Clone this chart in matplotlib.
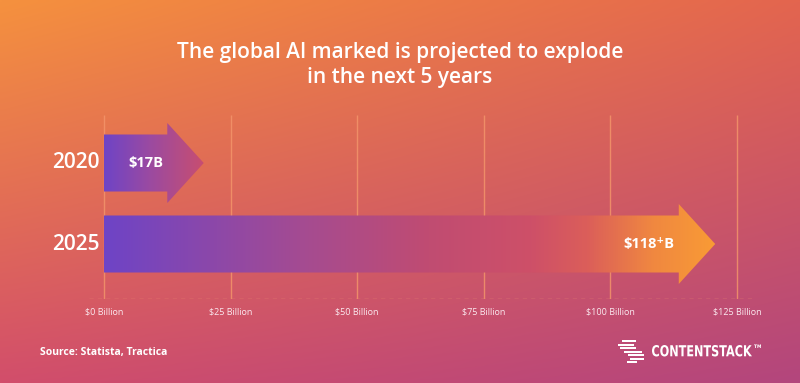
import numpy as np
import matplotlib
matplotlib.use("Agg")
import matplotlib.pyplot as plt
from matplotlib.patches import Polygon, Rectangle, PathPatch
from matplotlib.colors import LinearSegmentedColormap, to_rgb
from matplotlib.textpath import TextPath
from matplotlib.font_manager import FontProperties
from matplotlib.transforms import Affine2D

# ---- data ----
years = ["2020", "2025"]
values = [17, 118]
value_labels = ["$17B", "$118\u207AB"]
tick_values = [0, 25, 50, 75, 100, 125]
tick_labels = ["$0 Billion", "$25 Billion", "$50 Billion", "$75 Billion", "$100 Billion", "$125 Billion"]
title = "The global AI marked is projected to explode\nin the next 5 years"
source = "Source: Statista, Tractica"

FONT = ["Open Sans", "DejaVu Sans"]
plt.rcParams["font.family"] = FONT

W, H = 800, 383
fig = plt.figure(figsize=(W / 100, H / 100), dpi=100)

# ---- background gradient (4 corners bilinear) ----
bg = fig.add_axes([0, 0, 1, 1], zorder=0)
tl, tr = np.array(to_rgb("#F5913E")), np.array(to_rgb("#E3654F"))
bl, br = np.array(to_rgb("#D24E6B")), np.array(to_rgb("#B3467D"))
u = np.linspace(0, 1, 200)[None, :, None]
v = np.linspace(0, 1, 100)[:, None, None]
img = (1 - v) * ((1 - u) * tl + u * tr) + v * ((1 - u) * bl + u * br)
bg.imshow(img, extent=(0, 1, 0, 1), aspect="auto", origin="upper", interpolation="bilinear")
bg.set_axis_off()
bg.set_xlim(0, 1)
bg.set_ylim(0, 1)

# ---- main axes ----
ppu = 633 / 125.0  # pixels per billion
x0px = 104
left_px, right_px = 60, 780
top_px, bot_px = 115, 299
ax = fig.add_axes([left_px / W, (H - bot_px) / H, (right_px - left_px) / W, (bot_px - top_px) / H], zorder=1)
ax.patch.set_alpha(0)
xlim = ((left_px - x0px) / ppu, (right_px - x0px) / ppu)
row_px = 81.0
ypos = {"2020": 1.0, "2025": 0.0}
ylim = (-(bot_px - 244) / row_px, 1 + (163 - top_px) / row_px)

# gridlines
ax.vlines(tick_values, ylim[0], ylim[1], color="#F3946A", lw=1.0, alpha=0.85, zorder=1)
# dashed baseline
ax.axhline(ylim[0] + 0.004, xmin=(89 - left_px) / (right_px - left_px), xmax=(754 - left_px) / (right_px - left_px),
           color="#EE8C6E", lw=1.0, ls=(0, (3, 3)), zorder=1)

bh = 28.5 / row_px
hh = 40.0 / row_px
body_off = 4.5
tip_off = 2.7

stops = {
    "2020": [(0.0, "#6E44C6"), (0.45, "#9A4AA2"), (1.0, "#C84E70")],
    "2025": [(0.0, "#6E44C6"), (0.32, "#A44B92"), (0.53, "#C04C72"), (0.70, "#CE5068"),
             (0.79, "#DB5E5A"), (0.90, "#F08840"), (1.0, "#F99B35")],
}

for yr, val, lab in zip(years, values, value_labels):
    y = ypos[yr]
    be = val - body_off
    tip = val + tip_off
    verts = [(0, y - bh), (be, y - bh), (be, y - hh), (tip, y), (be, y + hh), (be, y + bh), (0, y + bh)]
    poly = Polygon(verts, closed=True, facecolor="none", edgecolor="none", transform=ax.transData)
    ax.add_patch(poly)
    cmap = LinearSegmentedColormap.from_list("g" + yr, stops[yr])
    grad = np.linspace(0, 1, 512)[None, :]
    im = ax.imshow(grad, cmap=cmap, extent=(0, tip, y - hh, y + hh), aspect="auto",
                   interpolation="bilinear", zorder=2)
    im.set_clip_path(poly)
    ax.text(val - 5.3, y, lab, ha="right", va="center", color="white", fontsize=10.5,
            fontweight="bold", family=FONT, zorder=3)
    ax.text(-0.8, y, yr, ha="right", va="center", color="white", fontsize=15,
            fontweight="semibold", family=FONT, zorder=3)

ax.set_xlim(*xlim)
ax.set_ylim(*ylim)
ax.set_xticks(tick_values)
ax.set_xticklabels(tick_labels, fontsize=6.5, color="#FBEAF0")
ax.tick_params(axis="x", length=0, pad=6)
ax.set_yticks([])
for s in ax.spines.values():
    s.set_visible(False)

# ---- title & footer ----
fig.text(0.5, (H - 65) / H, title, ha="center", va="center", color="white", fontsize=15,
         linespacing=1.3, fontweight="semibold", family=FONT)
fig.text(40 / W, (H - 352) / H, source, ha="left", va="center", color="white", fontsize=7.5,
         fontweight="bold", family=FONT)

# logo icon
bars = [(622, 340, 14), (618, 343.5, 16), (620, 347, 16), (624, 350.5, 18), (628, 354, 16),
        (630, 357.5, 14), (627, 361, 10)]
for bx, by, bw in bars:
    fig.add_artist(Rectangle((bx / W, (H - by - 2.2) / H), bw / W, 2.2 / H, transform=fig.transFigure,
                             facecolor="white", edgecolor="none", zorder=3))
# logo wordmark: condensed bold text drawn as a scaled text path (in pixel units)
fp = FontProperties(family="DejaVu Sans", weight="bold")
tp = TextPath((0, 0), "CONTENTSTACK", size=16, prop=fp)
ext = tp.get_extents()
sx = 100.0 / ext.width
sy = 11.5 / ext.height
trans = Affine2D().translate(-ext.x0, -ext.y0).scale(sx, sy).translate(652, H - 356.5) + \
    Affine2D().scale(1.0 / W, 1.0 / H) + fig.transFigure
fig.add_artist(PathPatch(tp, transform=trans, facecolor="white", edgecolor="none", zorder=3))
tm = TextPath((0, 0), "TM", size=16, prop=fp)
e2 = tm.get_extents()
trans2 = Affine2D().translate(-e2.x0, -e2.y0).scale(7.0 / e2.width, 3.5 / e2.height).translate(754, H - 348) + \
    Affine2D().scale(1.0 / W, 1.0 / H) + fig.transFigure
fig.add_artist(PathPatch(tm, transform=trans2, facecolor="white", edgecolor="none", zorder=3))

fig.savefig("out.png", dpi=100)
